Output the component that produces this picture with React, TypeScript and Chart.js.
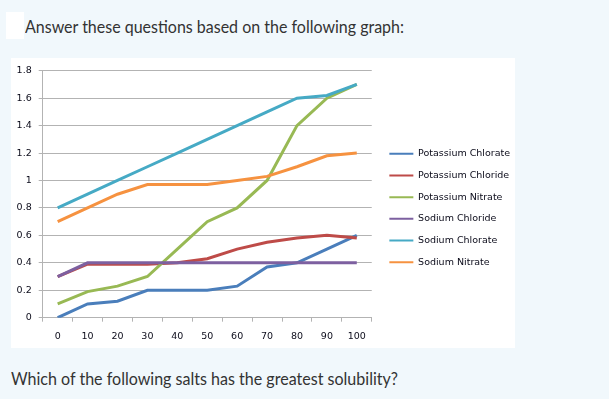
import React, { useEffect, useLayoutEffect, useRef } from "react";
import { Chart, registerables } from "chart.js";

Chart.register(...registerables);

const categories = ["0", "10", "20", "30", "40", "50", "60", "70", "80", "90", "100"];
const seriesNames = [
  "Potassium Chlorate",
  "Potassium Chloride",
  "Potassium Nitrate",
  "Sodium Chloride",
  "Sodium Chlorate",
  "Sodium Nitrate",
];
const potassiumChlorate = [0, 0.1, 0.12, 0.2, 0.2, 0.2, 0.23, 0.37, 0.4, 0.5, 0.6];
const potassiumChloride = [0.3, 0.39, 0.39, 0.39, 0.4, 0.43, 0.5, 0.55, 0.58, 0.6, 0.58];
const potassiumNitrate = [0.1, 0.19, 0.23, 0.3, 0.5, 0.7, 0.8, 1.0, 1.4, 1.6, 1.7];
const sodiumChloride = [0.3, 0.4, 0.4, 0.4, 0.4, 0.4, 0.4, 0.4, 0.4, 0.4, 0.4];
const sodiumChlorate = [0.8, 0.9, 1.0, 1.1, 1.2, 1.3, 1.4, 1.5, 1.6, 1.62, 1.7];
const sodiumNitrate = [0.7, 0.8, 0.9, 0.97, 0.97, 0.97, 1.0, 1.03, 1.1, 1.18, 1.2];
const seriesValues = [
  potassiumChlorate,
  potassiumChloride,
  potassiumNitrate,
  sodiumChloride,
  sodiumChlorate,
  sodiumNitrate,
];
const seriesColors = ["#4a7ebb", "#be4b48", "#98b954", "#7d60a0", "#46aac5", "#f69240"];
const yMin = 0;
const yMax = 1.8;
const yStep = 0.2;

const titleText = "Answer these questions based on the following graph:";
const questionText = "Which of the following salts has the greatest solubility?";

const GRID = "#b3b3b3";
const TICK_FONT = { family: "'DejaVu Sans', sans-serif", size: 9.5 };
const TEXT_COLOR = "#0b0b1a";

function FitText(props: { text: string; left: number; top: number; size: number; width: number }) {
  const ref = useRef<HTMLSpanElement | null>(null);
  useLayoutEffect(() => {
    const el = ref.current;
    if (!el) return;
    el.style.transform = "none";
    const w = el.getBoundingClientRect().width;
    if (w > 0) el.style.transform = `scaleX(${props.width / w})`;
  }, [props.text, props.width]);
  return (
    <span
      ref={ref}
      style={{
        position: "absolute",
        left: props.left,
        top: props.top,
        fontFamily: "Lato, sans-serif",
        fontSize: props.size,
        lineHeight: "normal",
        color: "#333",
        whiteSpace: "nowrap",
        transformOrigin: "0 0",
      }}
    >
      {props.text}
    </span>
  );
}

// Nudge the legend a few pixels right and let it use the rest of the canvas width
const legendShift = {
  id: "legendShift",
  afterLayout(chart: any) {
    const lg = chart.legend;
    if (lg) {
      lg.left += 5.4;
      lg.right = chart.width;
      lg.width = lg.right - lg.left;
    }
  },
};

export default function App() {
  const canvasRef = useRef<HTMLCanvasElement | null>(null);

  useEffect(() => {
    if (!canvasRef.current) return;
    const chart = new Chart(canvasRef.current, {
      type: "line",
      data: {
        labels: categories,
        datasets: seriesNames.map((name, i) => ({
          label: name,
          data: seriesValues[i],
          borderColor: seriesColors[i],
          backgroundColor: seriesColors[i],
          borderWidth: 3,
          pointRadius: 0,
          pointHoverRadius: 0,
          tension: 0,
          fill: false,
          order: seriesNames.length - 1 - i,
        })),
      },
      plugins: [legendShift],
      options: {
        responsive: false,
        animation: false,
        layout: { padding: { top: 10, right: 23, bottom: 0, left: 0 } },
        plugins: {
          tooltip: { enabled: false },
          legend: {
            position: "right",
            align: "center",
            labels: {
              usePointStyle: true,
              pointStyle: "line",
              pointStyleWidth: 24,
              padding: 12.2,
              color: TEXT_COLOR,
              font: TICK_FONT,
              sort: (a: any, b: any) => a.datasetIndex - b.datasetIndex,
              generateLabels: (c: any) =>
                (Chart.defaults.plugins.legend.labels as any)
                  .generateLabels(c)
                  .map((l: any) => ({ ...l, lineWidth: 2 })),
            },
          },
        },
        scales: {
          x: {
            type: "category",
            offset: true,
            grid: {
              display: true,
              drawOnChartArea: false,
              drawTicks: true,
              tickLength: 4,
              offset: true,
              color: GRID,
            },
            border: { display: true, color: GRID, width: 1 },
            ticks: {
              font: TICK_FONT,
              color: TEXT_COLOR,
              padding: 9,
              maxRotation: 0,
              autoSkip: false,
            },
            afterFit: (s: any) => {
              s.height = 30.3;
            },
          },
          y: {
            min: yMin,
            max: yMax,
            grid: { color: GRID, tickLength: 4 },
            border: { display: true, color: GRID, width: 1 },
            ticks: {
              stepSize: yStep,
              font: TICK_FONT,
              color: TEXT_COLOR,
              padding: 7,
              callback: (v: any) => String(Number(Number(v).toFixed(1))),
            },
            afterFit: (s: any) => {
              s.width = 31.7;
            },
          },
        },
      },
    });
    return () => chart.destroy();
  }, []);

  return (
    <div
      style={{
        position: "absolute",
        left: 0,
        top: 0,
        width: 609,
        height: 399,
        background: "#f1f8fc",
        overflow: "hidden",
      }}
    >
      <div style={{ position: "absolute", left: 6, top: 12, width: 18, height: 27, background: "#fff" }} />
      <FitText text={titleText} left={25} top={16} size={17} width={379} />
      <div style={{ position: "absolute", left: 11, top: 58, width: 504, height: 290, background: "#fff" }}>
        <canvas ref={canvasRef} width={504} height={290} style={{ display: "block", width: 504, height: 290 }} />
      </div>
      <FitText text={questionText} left={11} top={368.7} size={16.5} width={387} />
    </div>
  );
}
